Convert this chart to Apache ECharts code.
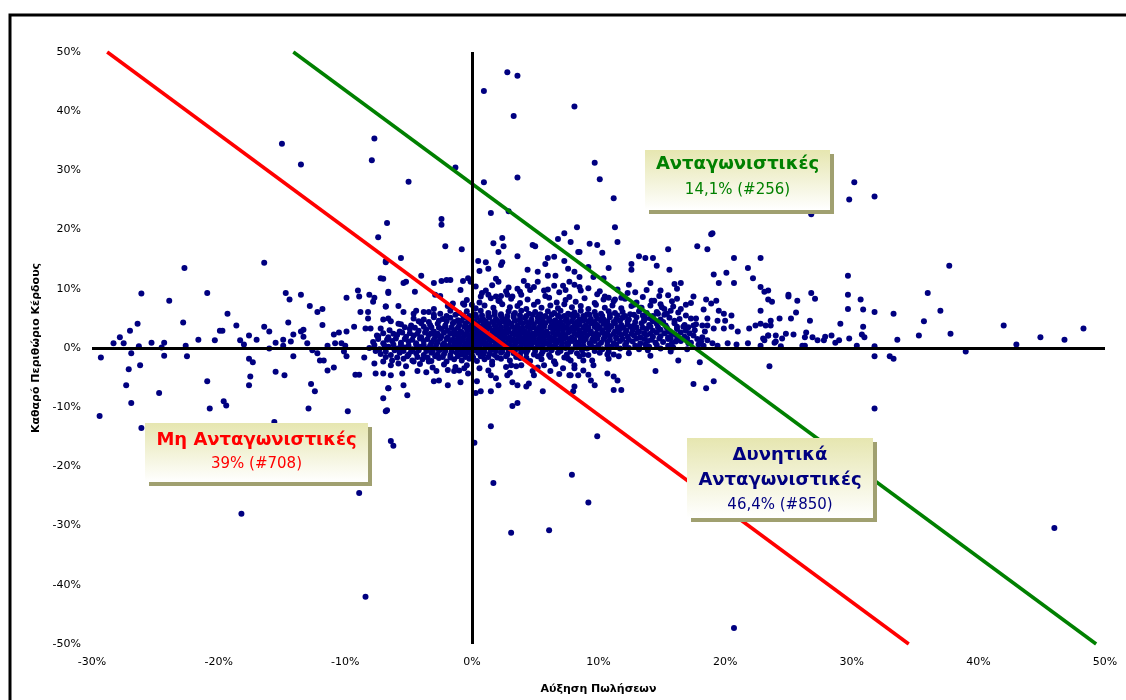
<!DOCTYPE html>
<html>
<head>
<meta charset="utf-8">
<script src="https://cdn.jsdelivr.net/npm/echarts@6/dist/echarts.min.js"></script>
<style>html,body{margin:0;padding:0;background:#fff;}#chart{width:1126px;height:700px;}</style>
</head>
<body>
<div id="chart"></div>
<script>
// ---- Axis ticks ----
const xTicks = { min: -30, max: 50, step: 10 };
const yTicks = { min: -50, max: 50, step: 10 };
const xTitle = 'Αύξηση Πωλήσεων';
const yTitle = 'Καθαρό Περιθώριο Κέρδους';

// ---- Boundary lines (x %, y %) ----
const redLine = [[-28.8, 50], [34.5, -50]];
const greenLine = [[-14.1, 50], [49.3, -50]];

// ---- Group labels ----
const groupGreen = ['Ανταγωνιστικές', '14,1% (#256)'];
const groupRed = ['Μη Ανταγωνιστικές', '39% (#708)'];
const groupNavy = ['Δυνητικά', 'Ανταγωνιστικές', '46,4% (#850)'];

// ---- Scatter points: [sales growth %, net profit margin %] ----
const pointsTop = [[0.95,43.4],[2.8,46.6],[3.6,46.0],[3.3,39.2],[8.1,40.8],[9.7,31.3],[10.1,28.5],[3.6,28.8],[0.95,28.0],[-1.3,30.5],[-7.7,35.4],[-7.9,31.7],[-15.0,34.5],[-13.5,31.0],[-5.0,28.1],[30.2,28.0],[29.8,25.1],[31.8,25.6],[26.8,22.6],[1.5,22.8],[2.9,23.1],[-2.4,21.8],[-2.4,20.8],[-6.7,21.1],[-7.4,18.7],[18.9,19.2],[11.2,25.3]];

const pointsRight = [[37.7,13.9],[36.0,9.3],[37.0,6.3],[35.7,4.5],[35.3,2.1],[37.8,2.4],[33.3,5.8],[33.6,1.4],[33.0,-1.4],[33.3,-1.8],[31.8,-1.4],[31.8,0.3],[31.8,6.1],[30.7,8.2],[30.9,6.5],[30.9,3.6],[30.8,2.3],[31.0,1.8],[30.4,0.4],[29.8,1.6],[29.7,12.2],[29.7,9.0],[29.7,6.6],[29.1,4.1],[29.0,1.3],[28.7,0.9],[28.4,2.1],[27.9,1.9],[27.8,1.3],[27.3,1.3],[26.9,1.8],[26.8,9.3],[27.1,8.3],[26.7,4.6],[26.4,2.6],[26.3,1.8],[26.1,0.4],[26.3,0.4],[25.7,8.0],[25.6,6.0],[25.2,5.0],[25.4,2.3],[25.0,9.0],[25.0,8.7],[24.3,5.0],[24.8,2.4],[24.5,1.6],[24.0,2.1],[24.0,1.1],[23.9,0.9],[24.4,0.3],[23.6,4.6],[23.6,3.8],[23.4,2.1],[23.1,1.3],[22.8,0.4],[23.5,-3.1],[23.1,9.5],[23.4,9.7],[23.4,8.2],[23.7,7.8],[22.8,10.3],[22.8,6.3],[22.8,4.1],[22.8,15.2],[42.0,3.8],[43.0,0.6],[44.9,1.8],[46.8,1.4],[48.3,3.3],[39.0,-0.6],[46.0,-30.4],[31.8,-10.2]];

const pointsMidRight = [[11.3,20.4],[11.5,17.9],[9.3,17.6],[9.9,17.4],[8.5,16.2],[10.3,16.1],[7.8,17.9],[8.3,20.4],[19.0,19.4],[17.8,17.2],[18.6,16.7],[15.5,16.7],[13.2,15.5],[13.7,15.2],[14.3,15.2],[12.6,14.2],[12.6,13.2],[14.6,13.9],[15.6,13.2],[20.7,15.2],[21.8,13.5],[20.1,12.7],[19.1,12.4],[22.2,11.8],[20.7,11.0],[19.5,11.0],[10.8,13.5],[9.2,13.7],[10.4,11.8],[9.6,12.0],[8.5,12.0],[12.4,10.7],[14.1,11.0],[13.8,9.8],[16.0,10.8],[16.5,11.0],[16.2,10.0],[11.8,8.5],[11.3,8.2],[10.5,8.7],[14.4,8.0],[13.4,6.8],[12.8,7.3],[16.2,8.3],[17.5,8.7],[18.5,8.2],[19.3,8.0],[18.9,7.5],[17.3,7.6],[18.3,6.5],[19.5,6.3],[19.9,5.8],[20.5,5.5],[16.5,6.6],[15.7,6.3],[15.2,6.6],[14.7,5.8],[14.1,5.0],[13.7,5.0],[16.9,5.5],[17.7,5.0],[18.6,5.0],[19.4,4.6],[20.0,4.6],[20.5,3.6],[19.9,3.3],[19.1,3.3],[18.2,3.8],[17.5,3.8],[16.7,3.6],[21.0,2.8],[21.9,3.3],[22.4,3.8],[23.2,3.8],[23.0,1.6],[23.4,2.1],[21.8,0.8],[20.9,0.6],[20.2,0.8],[19.4,0.4],[18.6,1.3],[18.3,0.4],[17.9,0.6],[17.1,0.8],[16.1,1.1],[15.7,1.6],[15.7,-0.6],[14.1,-1.3],[13.9,-0.4],[13.2,0.3],
[0.3,10.4],[1.6,10.6],[2.9,10.2],[4.9,10.3],[6.0,9.9],[7.4,9.8],[9.2,10.1],[10.1,9.6],[11.5,9.9],[12.9,9.4],[14.9,9.7],[15.5,8.9],[13.5,8.6],[14.8,8.8],[15.8,7.9],[16.9,7.3],[15.9,7.0],[14.9,7.4]];

const pointsLower = [[17.5,-6.1],[18.5,-6.8],[19.1,-5.6],[18.0,-2.4],[16.3,-2.1],[14.5,-3.9],[11.2,-7.1],[11.8,-7.1],[11.5,-5.5],[11.2,-4.8],[10.7,-4.3],[9.7,-6.3],[9.4,-5.5],[9.2,-4.5],[9.5,-2.1],[9.6,-2.9],[8.8,-1.1],[10.7,-1.1],[10.8,-1.8],[11.6,-1.4],[8.1,-2.9],[8.8,-3.8],[7.8,-4.6],[8.1,-6.5],[8.0,-7.3],[-7.0,-2.3],[-6.4,-2.9],[-5.8,-2.6],[-4.7,-2.1],[-3.4,-2.3],[-4.3,-3.9],[-5.5,-4.3],[-6.4,-4.6],[-5.4,-6.3],[-6.6,-6.8],[-5.1,-8.0],[-2.8,-3.9],[-3.0,-5.6],[-2.6,-5.5],[-1.4,-3.9],[-1.0,-3.8],[-0.6,-3.4],[-0.9,-5.8],[-1.9,-6.3],[0.4,-5.6],[0.7,-7.3],[0.3,-7.6],[1.5,-4.6],[1.9,-5.1],[2.1,-6.3],[1.5,-7.3],[3.1,-2.9],[3.5,-3.1],[2.8,-4.6],[3.2,-5.8],[3.6,-6.3],[4.3,-6.5],[4.5,-6.0],[4.9,-4.6],[5.7,-2.9],[6.2,-3.9],[6.5,-2.3],[7.2,-3.4],[7.8,-2.1],[8.1,-3.4],[7.7,-4.6],[8.4,-4.6],[5.6,-7.3],[0.2,-16.0],[1.5,-13.2],[1.7,-22.8],[3.1,-31.2],[3.2,-9.8],[3.6,-9.3],[6.1,-30.8],[7.9,-21.4],[9.2,-26.1],[9.9,-14.9],[20.7,-47.3]];

const pointsLeft = [[-29.3,-1.6],[-29.4,-11.5],[-28.3,0.8],[-27.8,1.8],[-27.5,0.8],[-27.0,2.9],[-26.4,4.1],[-26.1,9.2],[-26.3,0.3],[-26.9,-0.9],[-26.2,-2.9],[-27.1,-3.6],[-27.3,-6.3],[-26.9,-9.3],[-25.3,0.9],[-24.5,0.1],[-24.3,0.9],[-24.3,-1.3],[-24.7,-7.6],[-23.9,8.0],[-22.7,13.5],[-22.8,4.3],[-22.6,0.4],[-22.5,-1.4],[-21.6,1.4],[-20.9,9.3],[-20.9,-5.6],[-20.7,-10.2],[-20.3,1.3],[-19.9,2.9],[-19.7,2.9],[-19.6,-9.0],[-19.4,-9.7],[-19.3,5.8],[-18.6,3.8],[-18.3,1.3],[-18.0,0.6],[-17.6,2.1],[-17.0,1.4],[-17.6,-1.8],[-17.3,-2.4],[-17.5,-4.8],[-17.6,-6.3],[-16.4,14.4],[-16.4,3.6],[-16.0,2.8],[-16.0,-0.1],[-15.5,0.9],[-14.9,1.4],[-14.9,0.4],[-14.3,1.1],[-15.5,-4.0],[-14.8,-4.6],[-14.7,9.3],[-14.4,8.2],[-13.5,9.0],[-14.5,4.3],[-14.1,2.3],[-13.5,2.8],[-13.3,1.9],[-13.3,3.1],[-14.1,-1.4],[-12.8,7.1],[-12.2,6.1],[-11.8,6.6],[-11.8,3.9],[-13.0,0.8],[-12.6,-0.4],[-12.2,-0.9],[-12.0,-2.1],[-11.7,-2.1],[-11.4,-3.8],[-10.9,-3.3],[-12.7,-6.1],[-12.4,-7.3],[-12.9,-10.2],[-9.9,8.5],[-7.0,11.7],[-6.8,14.5],[-6.6,9.3],[-6.8,7.0],[-6.6,5.0],[-9.8,-10.7],[-18.2,-28.0],[-8.4,-42.0],[-8.9,-24.5],[-26.1,-13.5],[-15.6,-12.5],[-6.8,-10.7],[-6.4,-15.7],[-6.2,-16.5],[-8.5,-1.6],[-7.7,-2.6],[-7.6,-4.3],[-7.0,-4.3],[-7.0,-8.5],[-6.6,-6.8],[-6.7,-10.5],[-9.2,-4.5],[-8.9,-4.5],[-9.3,3.6],[-11.4,0.4],[-10.9,2.3],[-10.5,2.6],[-9.9,2.8],[-10.8,0.8],[-10.3,0.8],[-10.0,0.4],[-10.1,-0.6],[-9.9,-1.4],[-9.0,9.7],[-8.9,8.7],[-8.1,9.0],[-7.7,8.5],[-7.8,7.8],[-8.8,6.1],[-8.2,6.1],[-8.2,5.0],[-8.4,3.3],[-8.0,3.3],[-7.5,2.1]];

const pointsUpperMid = [[-2.1,17.2],[-0.8,16.7],[-5.6,15.2],[-6.8,14.7],[2.4,18.6],[1.7,17.7],[2.5,17.2],[2.1,16.2],[4.8,17.4],[5.0,17.2],[3.6,15.5],[2.4,14.5],[2.3,14.0],[1.3,13.4],[0.5,14.7],[1.1,14.5],[0.6,13.0],[7.3,19.4],[6.8,18.4],[8.4,16.2],[6.5,15.4],[6.0,15.2],[5.8,14.2],[7.3,14.7],[7.6,13.4],[4.4,13.2],[5.2,12.9],[6.0,12.2],[6.6,12.2],[8.1,12.9],[-4.0,12.2],[-5.2,11.2],[-5.4,11.0],[-3.0,11.0],[-2.4,11.3],[-2.0,11.5],[-1.7,11.5],[-0.7,11.3],[-0.3,11.8],[-0.1,11.2],[-7.2,11.8],[-6.6,9.5],[-4.5,9.5],[-0.9,9.8],[-2.9,9.0],[-2.5,8.8],[1.9,11.7],[2.1,11.2],[1.1,9.7],[1.3,9.0],[0.7,8.7],[3.6,10.0],[4.1,11.3],[4.4,10.5],[3.8,9.5],[2.8,9.0],[3.2,8.7],[2.3,8.8],[2.1,8.0],[5.2,11.2],[5.7,9.7],[6.5,10.5],[7.2,10.5],[7.7,11.2],[8.1,10.7],[8.5,10.3],[-6.8,7.0],[-5.8,7.1],[-5.4,6.1],[-4.6,5.8],[-4.4,6.3],[-3.8,6.1],[-3.0,6.6],[-1.9,7.1],[-1.5,7.5],[-0.7,7.5],[0.0,7.3],[-7.0,4.8],[-6.4,4.5],[-5.8,4.1],[-7.2,3.3]];

const pointsCoreHigh = [[0.8,9.3],[1.9,8.7],[2.7,9.6],[3.9,9.0],[4.6,9.8],[5.8,8.8],[6.9,9.4],[7.7,8.6],[8.6,9.7],[9.9,9.1],[10.8,8.5],[12.3,9.3],
[-0.4,8.1],[0.6,7.7],[1.5,8.4],[2.2,7.9],[3.1,8.3],[3.8,7.6],[4.4,8.2],[5.2,7.8],[6.1,8.5],[6.7,7.7],[7.4,8.1],[8.2,7.8],[8.9,8.4],[9.7,7.6],[10.4,8.2],[11.2,7.9],[12.1,8.3],[13.0,7.7],[14.2,8.0],
[-1.6,6.9],[-0.6,7.3],[0.3,6.7],[1.0,7.2],[1.7,6.8],[2.4,7.4],[3.0,6.9],[3.6,7.1],[4.3,6.6],[4.9,7.3],[5.5,6.8],[6.2,7.2],[6.8,6.7],[7.3,7.4],[7.9,6.9],[8.6,7.1],[9.2,6.6],[9.8,7.3],[10.5,6.8],[11.1,7.2],[11.8,6.7],[12.6,7.1],[13.3,6.8],[14.1,7.2],[15.0,6.9],
[-3.4,6.1],[-2.5,5.8],[-1.7,6.3],[-1.0,5.9],[-0.4,6.2],[0.2,5.7],[0.7,6.3],[1.3,5.9],[1.8,6.1],[2.3,5.7],[2.9,6.2],[3.4,5.9],[3.9,6.3],[4.5,5.8],[5.0,6.1],[5.4,5.7],[6.0,6.2],[6.5,5.9],[7.0,6.3],[7.6,5.8],[8.1,6.0],[8.6,6.3],[9.1,5.7],[9.7,6.1],[10.2,5.8],[10.8,6.2],[11.3,5.9],[11.9,6.1],[12.5,5.7],[13.2,6.2],[13.8,5.9],[14.6,6.1],[15.4,5.8],[16.3,6.0],
[-3.0,5.6],[-2.0,5.4],[-1.3,5.6],[-0.7,5.5],[-0.2,5.4],[0.3,5.6],[0.8,5.5],[1.3,5.4],[1.8,5.6],[2.3,5.5],[2.8,5.4],[3.3,5.6],[3.8,5.5],[4.3,5.4],[4.8,5.6],[5.3,5.5],[5.8,5.4],[6.3,5.6],[6.8,5.5],[7.3,5.4],[7.8,5.6],[8.3,5.5],[8.8,5.4],[9.3,5.6],[9.8,5.5],[10.3,5.4],[10.9,5.6],[11.5,5.5],[12.1,5.4],[12.8,5.6],[13.5,5.5],[14.3,5.4],[15.2,5.6],
[-4.6,5.0],[-3.8,4.8],[-3.0,5.2],[-2.3,4.9],[-1.7,5.1],[-1.1,4.7],[-0.6,5.2],[-0.1,4.9],[0.4,5.1],[0.9,4.8],[1.4,5.2],[1.9,4.9],[2.4,5.0],[2.8,4.7],[3.3,5.2],[3.8,4.9],[4.2,5.1],[4.7,4.8],[5.2,5.2],[5.6,4.9],[6.1,5.0],[6.6,4.7],[7.0,5.2],[7.5,4.9],[8.0,5.1],[8.5,4.8],[8.9,5.2],[9.4,4.9],[9.9,5.0],[10.4,4.8],[10.9,5.2],[11.4,4.9],[11.9,5.1],[12.4,4.8],[13.0,5.2],[13.6,4.9],[14.2,5.0],[14.9,4.8],[15.6,5.1],[16.4,4.9],[17.3,5.0],
[-4.2,4.5],[-3.4,4.4],[-2.6,4.6],[-2.0,4.5],[-1.4,4.4],[-0.8,4.6],[-0.3,4.5],[0.2,4.4],[0.7,4.6],[1.1,4.5],[1.6,4.4],[2.0,4.6],[2.5,4.5],[2.9,4.4],[3.4,4.6],[3.8,4.5],[4.3,4.4],[4.7,4.6],[5.2,4.5],[5.6,4.4],[6.1,4.6],[6.5,4.5],[7.0,4.4],[7.4,4.6],[7.9,4.5],[8.3,4.4],[8.8,4.6],[9.2,4.5],[9.7,4.4],[10.2,4.6],[10.7,4.5],[11.2,4.4],[11.7,4.6],[12.3,4.5],[12.9,4.4],[13.6,4.6],[14.3,4.5],[15.1,4.4],[16.0,4.6]];

const pointsCoreMid = [[-5.6,4.0],[-4.8,3.8],[-4.0,4.2],[-3.3,3.9],[-2.7,4.1],[-2.1,3.8],[-1.5,4.2],[-1.0,3.9],[-0.5,4.1],[0.0,3.8],[0.4,4.2],[0.9,3.9],[1.3,4.0],[1.8,3.8],[2.2,4.2],[2.7,3.9],[3.1,4.1],[3.6,3.8],[4.0,4.2],[4.5,3.9],[4.9,4.0],[5.4,3.8],[5.8,4.2],[6.3,3.9],[6.7,4.1],[7.2,3.8],[7.6,4.2],[8.1,3.9],[8.5,4.0],[9.0,3.8],[9.4,4.2],[9.9,3.9],[10.4,4.1],[10.8,3.8],[11.3,4.2],[11.8,3.9],[12.3,4.0],[12.8,3.8],[13.4,4.2],[14.0,3.9],[14.6,4.1],[15.3,3.8],[16.0,4.2],[16.8,3.9],[17.7,4.0],[18.6,3.8],
[-5.3,3.5],[-4.5,3.4],[-3.8,3.6],[-3.2,3.5],[-2.6,3.4],[-2.1,3.6],[-1.6,3.5],[-1.1,3.4],[-0.6,3.6],[-0.2,3.5],[0.2,3.4],[0.6,3.6],[1.0,3.5],[1.4,3.4],[1.9,3.6],[2.3,3.5],[2.7,3.4],[3.2,3.6],[3.6,3.5],[4.0,3.4],[4.4,3.6],[4.9,3.5],[5.3,3.4],[5.7,3.6],[6.2,3.5],[6.6,3.4],[7.0,3.6],[7.5,3.5],[7.9,3.4],[8.3,3.6],[8.8,3.5],[9.2,3.4],[9.7,3.6],[10.1,3.5],[10.6,3.4],[11.0,3.6],[11.5,3.5],[12.0,3.4],[12.5,3.6],[13.0,3.5],[13.5,3.4],[14.1,3.6],[14.7,3.5],[15.4,3.4],[16.2,3.6],[17.1,3.5],
[-6.5,3.0],[-5.7,2.8],[-4.9,3.2],[-4.2,2.9],[-3.6,3.1],[-3.0,2.8],[-2.4,3.2],[-1.9,2.9],[-1.4,3.0],[-0.9,2.8],[-0.4,3.2],[0.0,2.9],[0.4,3.1],[0.8,2.8],[1.2,3.2],[1.7,2.9],[2.1,3.0],[2.5,2.8],[2.9,3.2],[3.4,2.9],[3.8,3.1],[4.2,2.8],[4.6,3.2],[5.1,2.9],[5.5,3.0],[5.9,2.8],[6.4,3.2],[6.8,2.9],[7.2,3.1],[7.7,2.8],[8.1,3.2],[8.5,2.9],[9.0,3.0],[9.4,2.8],[9.9,3.2],[10.3,2.9],[10.8,3.1],[11.3,2.8],[11.7,3.2],[12.2,2.9],[12.7,3.0],[13.2,2.8],[13.8,3.2],[14.3,2.9],[14.9,3.1],[15.5,2.8],[16.2,3.2],[16.9,2.9],[17.6,3.0],[18.4,2.8],
[-7.0,2.5],[-6.2,2.4],[-5.5,2.6],[-4.9,2.5],[-4.3,2.4],[-3.7,2.6],[-3.2,2.5],[-2.7,2.4],[-2.2,2.6],[-1.7,2.5],[-1.2,2.4],[-0.8,2.6],[-0.4,2.5],[0.0,2.4],[0.4,2.6],[0.8,2.5],[1.2,2.4],[1.6,2.6],[2.0,2.5],[2.4,2.4],[2.8,2.6],[3.2,2.5],[3.6,2.4],[4.0,2.6],[4.4,2.5],[4.8,2.4],[5.2,2.6],[5.6,2.5],[6.0,2.4],[6.4,2.6],[6.8,2.5],[7.2,2.4],[7.6,2.6],[8.1,2.5],[8.5,2.4],[8.9,2.6],[9.4,2.5],[9.8,2.4],[10.3,2.6],[10.7,2.5],[11.2,2.4],[11.6,2.6],[12.1,2.5],[12.6,2.4],[13.1,2.6],[13.6,2.5],[14.1,2.4],[14.6,2.6],[15.2,2.5],[15.8,2.4],[16.5,2.6],[17.2,2.5],
[-7.4,2.0],[-6.6,1.8],[-5.9,2.2],[-5.2,1.9],[-4.6,2.1],[-4.0,1.8],[-3.4,2.2],[-2.9,1.9],[-2.4,2.0],[-1.9,1.8],[-1.4,2.2],[-1.0,1.9],[-0.6,2.1],[-0.2,1.8],[0.2,2.2],[0.6,1.9],[1.0,2.0],[1.4,1.8],[1.8,2.2],[2.2,1.9],[2.6,2.1],[3.0,1.8],[3.4,2.2],[3.8,1.9],[4.2,2.0],[4.6,1.8],[5.0,2.2],[5.4,1.9],[5.8,2.1],[6.2,1.8],[6.6,2.2],[7.0,1.9],[7.4,2.0],[7.9,1.8],[8.3,2.2],[8.7,1.9],[9.1,2.1],[9.6,1.8],[10.0,2.2],[10.5,1.9],[10.9,2.0],[11.4,1.8],[11.8,2.2],[12.3,1.9],[12.8,2.1],[13.3,1.8],[13.8,2.2],[14.3,1.9],[14.9,2.0],[15.5,1.8],[16.1,2.2],[16.8,1.9],[17.5,2.1],[18.2,1.8],
[-7.4,1.5],[-6.7,1.4],[-6.0,1.6],[-5.3,1.5],[-4.7,1.4],[-4.1,1.6],[-3.5,1.5],[-3.0,1.4],[-2.5,1.6],[-2.0,1.5],[-1.5,1.4],[-1.1,1.6],[-0.7,1.5],[-0.3,1.4],[0.1,1.6],[0.5,1.5],[0.9,1.4],[1.3,1.6],[1.7,1.5],[2.1,1.4],[2.5,1.6],[2.9,1.5],[3.3,1.4],[3.7,1.6],[4.1,1.5],[4.5,1.4],[4.9,1.6],[5.3,1.5],[5.7,1.4],[6.1,1.6],[6.5,1.5],[6.9,1.4],[7.3,1.6],[7.7,1.5],[8.1,1.4],[8.6,1.6],[9.0,1.5],[9.5,1.4],[9.9,1.6],[10.4,1.5],[10.9,1.4],[11.4,1.6],[11.9,1.5],[12.4,1.4],[13.0,1.6],[13.6,1.5],[14.2,1.4],[14.8,1.6],[15.5,1.5],[16.2,1.4],[17.0,1.6],[17.8,1.5]];

const pointsCoreLow = [[-7.8,1.0],[-7.0,0.8],[-6.3,1.2],[-5.6,0.9],[-5.0,1.1],[-4.4,0.8],[-3.8,1.2],[-3.2,0.9],[-2.7,1.0],[-2.2,0.8],[-1.7,1.2],[-1.3,0.9],[-0.9,1.1],[-0.5,0.8],[-0.1,1.2],[0.3,0.9],[0.7,1.0],[1.1,0.8],[1.5,1.2],[1.9,0.9],[2.3,1.1],[2.7,0.8],[3.1,1.2],[3.5,0.9],[3.9,1.0],[4.3,0.8],[4.7,1.2],[5.1,0.9],[5.5,1.1],[5.9,0.8],[6.3,1.2],[6.7,0.9],[7.1,1.0],[7.5,0.8],[7.9,1.2],[8.4,0.9],[8.8,1.1],[9.3,0.8],[9.7,1.2],[10.2,0.9],[10.7,1.0],[11.2,0.8],[11.7,1.2],[12.2,0.9],[12.7,1.1],[13.3,0.8],[13.9,1.2],[14.5,0.9],[15.1,1.0],[15.8,0.8],[16.5,1.2],[17.3,0.9],[18.1,1.1],[19.0,0.8],
[-7.7,0.5],[-6.9,0.4],[-6.2,0.6],[-5.6,0.5],[-5.0,0.4],[-4.4,0.6],[-3.8,0.5],[-3.3,0.4],[-2.8,0.6],[-2.3,0.5],[-1.8,0.4],[-1.4,0.6],[-1.0,0.5],[-0.6,0.4],[-0.2,0.6],[0.2,0.5],[0.6,0.4],[1.0,0.6],[1.4,0.5],[1.8,0.4],[2.2,0.6],[2.6,0.5],[3.0,0.4],[3.4,0.6],[3.9,0.5],[4.3,0.4],[4.7,0.6],[5.2,0.5],[5.6,0.4],[6.1,0.6],[6.6,0.5],[7.1,0.4],[7.6,0.6],[8.2,0.5],[8.8,0.4],[9.4,0.6],[10.0,0.5],[10.7,0.4],[11.4,0.6],[12.1,0.5],[12.9,0.4],[13.7,0.6],[14.6,0.5],[15.5,0.4],
[-8.1,0.0],[-7.3,-0.2],[-6.6,0.2],[-5.9,-0.1],[-5.3,0.1],[-4.7,-0.2],[-4.1,0.2],[-3.5,-0.1],[-3.0,0.0],[-2.5,-0.2],[-2.0,0.2],[-1.6,-0.1],[-1.2,0.1],[-0.8,-0.2],[-0.4,0.2],[0.0,-0.1],[0.4,0.0],[0.8,-0.2],[1.2,0.2],[1.6,-0.1],[2.0,0.1],[2.4,-0.2],[2.8,0.2],[3.2,-0.1],[3.7,0.0],[4.1,-0.2],[4.5,0.2],[5.0,-0.1],[5.4,0.1],[5.9,-0.2],[6.4,0.2],[6.9,-0.1],[7.4,0.0],[7.9,-0.2],[8.5,0.2],[9.1,-0.1],[9.7,0.1],[10.3,-0.2],[11.0,0.2],[11.7,-0.1],[12.4,0.0],[13.2,-0.2],[14.0,0.2],[14.9,-0.1],[15.9,0.1],[17.0,-0.2],
[-7.6,-0.5],[-6.8,-0.6],[-6.1,-0.4],[-5.4,-0.5],[-4.8,-0.6],[-4.2,-0.4],[-3.6,-0.5],[-3.1,-0.6],[-2.6,-0.4],[-2.1,-0.5],[-1.6,-0.6],[-1.1,-0.4],[-0.7,-0.5],[-0.3,-0.6],[0.2,-0.4],[0.6,-0.5],[1.0,-0.6],[1.5,-0.4],[1.9,-0.5],[2.4,-0.6],[2.9,-0.4],[3.4,-0.5],[3.9,-0.6],[4.4,-0.4],[5.0,-0.5],[5.6,-0.6],[6.3,-0.4],[7.0,-0.5],[7.8,-0.6],[8.7,-0.4],[9.7,-0.5],[10.8,-0.6],
[-7.2,-1.0],[-6.4,-1.2],[-5.7,-0.8],[-5.0,-1.1],[-4.4,-0.9],[-3.8,-1.2],[-3.2,-0.8],[-2.7,-1.1],[-2.2,-1.0],[-1.7,-1.2],[-1.2,-0.8],[-0.8,-1.1],[-0.4,-0.9],[0.0,-1.2],[0.5,-0.8],[0.9,-1.1],[1.4,-1.0],[1.8,-1.2],[2.3,-0.8],[2.8,-1.1],[3.3,-0.9],[3.8,-1.2],[4.3,-0.8],[4.9,-1.1],[5.5,-1.0],[6.1,-1.2],[6.8,-0.8],[7.5,-1.1],[8.3,-0.9],[9.2,-1.2],[10.1,-0.8],[11.2,-1.1],[12.4,-0.9],
[-6.8,-1.5],[-5.9,-1.6],[-5.1,-1.4],[-4.3,-1.5],[-3.5,-1.6],[-2.9,-1.4],[-2.3,-1.5],[-1.7,-1.6],[-1.1,-1.4],[-0.5,-1.5],[0.1,-1.6],[0.7,-1.4],[1.3,-1.5],[2.0,-1.6],[2.7,-1.4],[3.5,-1.5],[4.3,-1.6],[5.2,-1.4],[6.2,-1.5],[7.3,-1.6],[8.5,-1.4],
[-6.3,-2.1],[-5.4,-1.8],[-4.6,-2.3],[-3.9,-1.9],[-3.2,-2.2],[-2.6,-1.7],[-2.0,-2.3],[-1.4,-1.9],[-0.8,-2.1],[-0.2,-1.8],[0.4,-2.2],[1.0,-1.9],[1.6,-2.3],[2.3,-1.8],[3.0,-2.1],[3.8,-1.7],[4.6,-2.2],[5.5,-1.9],[6.5,-2.3],[7.6,-1.8],[8.8,-2.1],
[-5.2,-3.1],[-4.1,-2.7],[-3.1,-3.3],[-2.2,-2.8],[-1.3,-3.2],[-0.4,-2.9],[0.6,-3.4],[1.6,-2.8],[2.7,-3.2],[3.9,-2.9],[5.2,-3.3],[6.6,-2.7],
[-3.6,-4.1],[-1.9,-3.7],[-0.3,-4.3],[1.3,-3.8],[3.0,-4.2],[4.8,-3.9],[6.9,-4.4]];

const allPoints = [].concat(pointsTop, pointsRight, pointsMidRight, pointsLower, pointsLeft, pointsUpperMid, pointsCoreHigh, pointsCoreMid, pointsCoreLow);

const FONT = '"DejaVu Sans", Verdana, sans-serif';
const chart = echarts.init(document.getElementById('chart'), null, { renderer: 'canvas' });

function box(x, y, w, h, lines, color, lineYs, bold) {
  const els = [
    { type: 'rect', z: 100, shape: { x: x + 4, y: y + 4, width: w, height: h }, style: { fill: '#a0a070' } },
    { type: 'rect', z: 101, shape: { x: x, y: y, width: w, height: h },
      style: { fill: { type: 'linear', x: 0, y: 0, x2: 0, y2: 1, colorStops: [{ offset: 0, color: '#e6e6b0' }, { offset: 1, color: '#ffffff' }] } } }
  ];
  lines.forEach((t, i) => {
    els.push({ type: 'text', z: 102, style: { text: t, x: x + w / 2, y: lineYs[i], textAlign: 'center', textVerticalAlign: 'middle',
      font: (bold[i] ? 'bold 18px ' : '15px ') + FONT, fill: color } });
  });
  return els;
}

const graphics = [].concat(
  [{ type: 'rect', z: 0, shape: { x: 10, y: 15, width: 1300, height: 900 }, style: { fill: 'none', stroke: '#000', lineWidth: 3 } }],
  box(645, 150, 185, 60, groupGreen, '#008000', [164, 190], [true, false]),
  box(145, 423, 223, 59, groupRed, '#ff0000', [440, 464], [true, false]),
  box(687, 438, 186, 80, groupNavy, '#000080', [455, 480, 505], [true, true, false])
);

chart.setOption({
  animation: false,
  backgroundColor: '#fff',
  grid: { left: 92, right: 21, top: 52, bottom: 53, containLabel: false },
  xAxis: {
    type: 'value', min: xTicks.min, max: xTicks.max, interval: xTicks.step,
    name: xTitle, nameLocation: 'middle', nameGap: 40,
    nameTextStyle: { fontFamily: FONT, fontSize: 11, fontWeight: 'bold', color: '#000' },
    axisLine: { show: false }, axisTick: { show: false }, splitLine: { show: false },
    axisLabel: { formatter: '{value}%', fontFamily: FONT, fontSize: 11, color: '#000', margin: 13 }
  },
  yAxis: {
    type: 'value', min: yTicks.min, max: yTicks.max, interval: yTicks.step,
    name: yTitle, nameLocation: 'middle', nameGap: 46,
    nameTextStyle: { fontFamily: FONT, fontSize: 11, fontWeight: 'bold', color: '#000' },
    axisLine: { show: false }, axisTick: { show: false }, splitLine: { show: false },
    axisLabel: { formatter: '{value}%', fontFamily: FONT, fontSize: 11, color: '#000', margin: 11 }
  },
  graphic: graphics,
  series: [
    { type: 'scatter', data: [], z: 1, silent: true,
      markLine: { silent: true, symbol: ['none', 'none'], label: { show: false }, animation: false,
        lineStyle: { color: '#000', width: 3, type: 'solid' }, data: [{ yAxis: 0 }, { xAxis: 0 }] } },
    { type: 'scatter', data: allPoints, symbolSize: 6, z: 2, itemStyle: { color: '#000080', opacity: 1 } },
    { type: 'line', data: redLine, z: 3, symbol: 'none', lineStyle: { color: '#ff0000', width: 3.5 } },
    { type: 'line', data: greenLine, z: 3, symbol: 'none', lineStyle: { color: '#008000', width: 3.5 } }
  ]
});
</script>
</body>
</html>
